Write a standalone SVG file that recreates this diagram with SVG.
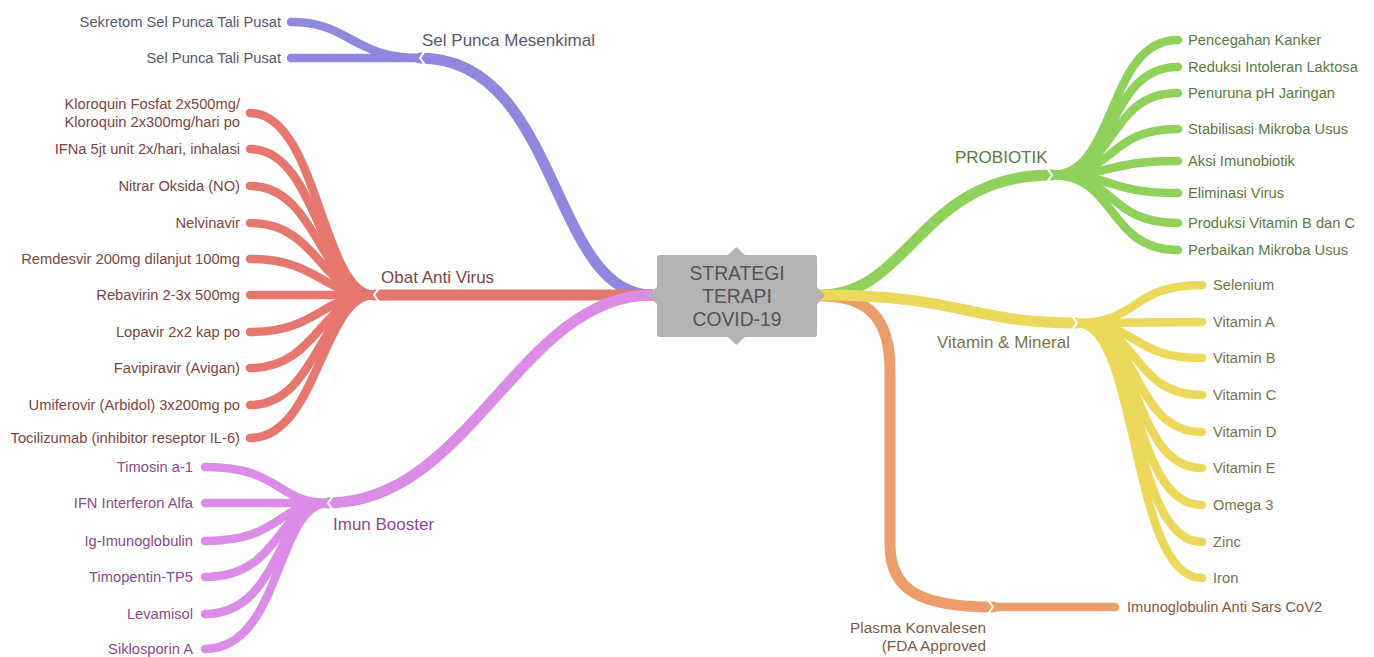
<svg xmlns="http://www.w3.org/2000/svg" width="1374" height="657" viewBox="0 0 1374 657">
<style>
.c path{fill:none;stroke-linecap:round;stroke-linejoin:round}
.m{stroke-width:11}
.l{stroke-width:8.5}
.pu{stroke:#8f88de}
.rd{stroke:#e5776f}
.pk{stroke:#da8ce6}
.gr{stroke:#8fd15a}
.ye{stroke:#ecd95b}
.or{stroke:#eb9e6b}
.notch{fill:none;stroke:#fff;stroke-width:2;stroke-linejoin:miter}
text{font-family:"Liberation Sans",Arial,sans-serif;font-size:14.7px}
.lab{font-size:17px}
.L{text-anchor:end}
.tpu{fill:#5b566e}
.trd{fill:#7a4646}
.tpk{fill:#8a4a94}
.tgr{fill:#5c7a40}
.tye{fill:#7b7346}
.tor{fill:#7d5a45}
</style>
<g id="connectors" class="c">
  <!-- purple -->
  <path class="m pu" d="M652,295 C550,295 560,58 420,58"/>
  <path class="l pu" d="M420,58 L291,58"/>
  <path class="l pu" d="M420,58 C352,58 350,22 291,22"/>
  <!-- red -->
  <path class="m rd" d="M652,295 L374,295"/>
  <path class="l rd" d="M374,295 C322,295 318,113 250,113"/>
  <path class="l rd" d="M374,295 C322,295 318,149 250,149"/>
  <path class="l rd" d="M374,295 C322,295 318,186 250,186"/>
  <path class="l rd" d="M374,295 C322,295 318,223 250,223"/>
  <path class="l rd" d="M374,295 C322,295 318,259 250,259"/>
  <path class="l rd" d="M374,295 L250,295"/>
  <path class="l rd" d="M374,295 C322,295 318,332 250,332"/>
  <path class="l rd" d="M374,295 C322,295 318,368 250,368"/>
  <path class="l rd" d="M374,295 C322,295 318,405 250,405"/>
  <path class="l rd" d="M374,295 C322,295 318,438 250,438"/>
  <!-- pink -->
  <path class="m pk" d="M652,295 C520,295 470,503 328,503"/>
  <path class="l pk" d="M328,503 C276,503 282,467 205,467"/>
  <path class="l pk" d="M328,503 L205,503"/>
  <path class="l pk" d="M328,503 C276,503 282,541 205,541"/>
  <path class="l pk" d="M328,503 C276,503 282,577 205,577"/>
  <path class="l pk" d="M328,503 C276,503 282,614 205,614"/>
  <path class="l pk" d="M328,503 C276,503 282,649 205,649"/>
  <!-- green -->
  <path class="m gr" d="M821,295 C910,295 920,175 1052,175"/>
  <path class="l gr" d="M1052,175 C1118,175 1106,40 1178,40"/>
  <path class="l gr" d="M1052,175 C1118,175 1106,67 1178,67"/>
  <path class="l gr" d="M1052,175 C1118,175 1106,93 1178,93"/>
  <path class="l gr" d="M1052,175 C1118,175 1106,129 1178,129"/>
  <path class="l gr" d="M1052,175 C1118,175 1106,161 1178,161"/>
  <path class="l gr" d="M1052,175 C1118,175 1106,193 1178,193"/>
  <path class="l gr" d="M1052,175 C1118,175 1106,223 1178,223"/>
  <path class="l gr" d="M1052,175 C1118,175 1106,250 1178,250"/>
  <!-- orange -->
  <path class="m or" d="M821,296 C870,296 890,320 890,370 L890,545 C890,590 920,607 993,607"/>
  <path class="l or" d="M993,607 L1115,607"/>
  <!-- yellow -->
  <path class="m ye" d="M821,295 C960,295 970,323 1077,323"/>
  <path class="l ye" d="M1077,323 C1140,323 1130,285 1202,285"/>
  <path class="l ye" d="M1077,323 L1202,322"/>
  <path class="l ye" d="M1077,323 C1140,323 1130,358 1202,358"/>
  <path class="l ye" d="M1077,323 C1140,323 1130,395 1202,395"/>
  <path class="l ye" d="M1077,323 C1140,323 1130,432 1202,432"/>
  <path class="l ye" d="M1077,323 C1140,323 1130,468 1202,468"/>
  <path class="l ye" d="M1077,323 C1140,323 1130,505 1202,505"/>
  <path class="l ye" d="M1077,323 C1140,323 1130,542 1202,542"/>
  <path class="l ye" d="M1077,323 C1140,323 1130,578 1202,578"/>
  <!-- junction notches -->
  <polyline class="notch" points="425,51 420,58 425,65"/>
  <polyline class="notch" points="379,288 374,295 379,302"/>
  <polyline class="notch" points="333,496 328,503 333,510"/>
  <polyline class="notch" points="1047,168 1052,175 1047,182"/>
  <polyline class="notch" points="1072,316 1077,323 1072,330"/>
  <polyline class="notch" points="988,600 993,607 988,614"/>
</g>
<g id="center">
  <path d="M660,255 H728 L736.5,247 L745,255 H814 Q817,255 817,258 V287 L825,295.5 L817,304 V334 Q817,337 814,337 H745 L736.5,345 L728,337 H660 Q657,337 657,334 V304 L648,295.5 L657,287 V258 Q657,255 660,255 Z" fill="#b3b3b3"/>
  <text x="737" y="280" text-anchor="middle" style="font-size:19.3px;fill:#555">STRATEGI</text>
  <text x="737" y="303" text-anchor="middle" style="font-size:19.3px;fill:#555">TERAPI</text>
  <text x="737" y="326" text-anchor="middle" style="font-size:19.3px;fill:#555">COVID-19</text>
</g>
<g id="sel-punca-mesenkimal"><text class="lab tpu" x="422" y="46">Sel Punca Mesenkimal</text></g>
<g id="sekretom"><text class="L tpu" x="281" y="27">Sekretom Sel Punca Tali Pusat</text></g>
<g id="sel-punca-tali-pusat"><text class="L tpu" x="281" y="63">Sel Punca Tali Pusat</text></g>

<g id="obat-anti-virus"><text class="lab trd" x="381" y="283">Obat Anti Virus</text></g>
<g id="kloroquin"><text class="L trd" x="240" y="109">Kloroquin Fosfat 2x500mg/</text><text class="L trd" x="240" y="127">Kloroquin 2x300mg/hari po</text></g>
<g id="ifna"><text class="L trd" x="240" y="154">IFNa 5jt unit 2x/hari, inhalasi</text></g>
<g id="nitrar"><text class="L trd" x="240" y="191">Nitrar Oksida (NO)</text></g>
<g id="nelvinavir"><text class="L trd" x="240" y="228">Nelvinavir</text></g>
<g id="remdesvir"><text class="L trd" x="240" y="264">Remdesvir 200mg dilanjut 100mg</text></g>
<g id="rebavirin"><text class="L trd" x="240" y="300">Rebavirin 2-3x 500mg</text></g>
<g id="lopavir"><text class="L trd" x="240" y="337">Lopavir 2x2 kap po</text></g>
<g id="favipiravir"><text class="L trd" x="240" y="373">Favipiravir (Avigan)</text></g>
<g id="umiferovir"><text class="L trd" x="240" y="410">Umiferovir (Arbidol) 3x200mg po</text></g>
<g id="tocilizumab"><text class="L trd" x="240" y="443">Tocilizumab (inhibitor reseptor IL-6)</text></g>

<g id="imun-booster"><text class="lab tpk" x="333" y="530">Imun Booster</text></g>
<g id="timosin"><text class="L tpk" x="193" y="472">Timosin a-1</text></g>
<g id="ifn-alfa"><text class="L tpk" x="193" y="508">IFN Interferon Alfa</text></g>
<g id="ig"><text class="L tpk" x="193" y="546">Ig-Imunoglobulin</text></g>
<g id="timopentin"><text class="L tpk" x="193" y="582">Timopentin-TP5</text></g>
<g id="levamisol"><text class="L tpk" x="193" y="619">Levamisol</text></g>
<g id="siklosporin"><text class="L tpk" x="193" y="654">Siklosporin A</text></g>

<g id="probiotik"><text class="lab tgr" x="955" y="163">PROBIOTIK</text></g>
<g id="pencegahan"><text class="tgr" x="1188" y="45">Pencegahan Kanker</text></g>
<g id="reduksi"><text class="tgr" x="1188" y="72">Reduksi Intoleran Laktosa</text></g>
<g id="penuruna"><text class="tgr" x="1188" y="98">Penuruna pH Jaringan</text></g>
<g id="stabilisasi"><text class="tgr" x="1188" y="134">Stabilisasi Mikroba Usus</text></g>
<g id="aksi"><text class="tgr" x="1188" y="166">Aksi Imunobiotik</text></g>
<g id="eliminasi"><text class="tgr" x="1188" y="198">Eliminasi Virus</text></g>
<g id="produksi"><text class="tgr" x="1188" y="228">Produksi Vitamin B dan C</text></g>
<g id="perbaikan"><text class="tgr" x="1188" y="255">Perbaikan Mikroba Usus</text></g>

<g id="vitamin-mineral"><text class="lab tye" x="937" y="348">Vitamin &amp; Mineral</text></g>
<g id="selenium"><text class="tye" x="1213" y="290">Selenium</text></g>
<g id="vit-a"><text class="tye" x="1213" y="327">Vitamin A</text></g>
<g id="vit-b"><text class="tye" x="1213" y="363">Vitamin B</text></g>
<g id="vit-c"><text class="tye" x="1213" y="400">Vitamin C</text></g>
<g id="vit-d"><text class="tye" x="1213" y="437">Vitamin D</text></g>
<g id="vit-e"><text class="tye" x="1213" y="473">Vitamin E</text></g>
<g id="omega3"><text class="tye" x="1213" y="510">Omega 3</text></g>
<g id="zinc"><text class="tye" x="1213" y="547">Zinc</text></g>
<g id="iron"><text class="tye" x="1213" y="583">Iron</text></g>

<g id="plasma"><text class="L tor" x="986" y="633" style="font-size:15.4px">Plasma Konvalesen</text><text class="L tor" x="986" y="651" style="font-size:15.4px">(FDA Approved</text></g>
<g id="imunoglobulin-anti"><text class="tor" x="1127" y="612">Imunoglobulin Anti Sars CoV2</text></g>
</svg>
